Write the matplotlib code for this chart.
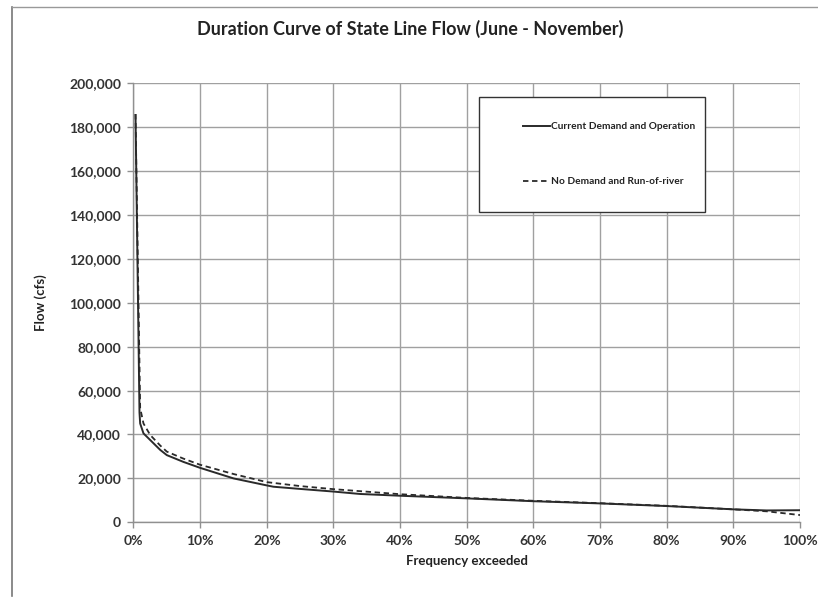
import matplotlib
matplotlib.use("Agg")
import matplotlib.pyplot as plt
from matplotlib.ticker import FuncFormatter, MultipleLocator
from matplotlib.lines import Line2D
from matplotlib.patches import Rectangle

plt.rcParams['font.family'] = ['Lato', 'DejaVu Sans']

title = "Duration Curve of State Line Flow (June - November)"
xlabel = "Frequency exceeded"
ylabel = "Flow (cfs)"
series_names = ["Current Demand and Operation", "No Demand and Run-of-river"]

current_freq = [0.3, 0.9, 1.0, 1.5, 2.5, 4, 5, 7.5, 10, 15, 20, 21, 25, 30, 34, 40, 50, 60, 70, 80, 90, 95, 100]
current_flow = [186000, 50000, 45000, 40500, 37500, 33000, 30600, 27500, 24800, 20000, 16800, 16200, 15200, 14000, 12900, 12100, 10900, 9600, 8600, 7400, 5900, 5400, 5500]

nodemand_freq = [0.3, 1.0, 1.5, 2.5, 4, 5, 7.5, 10, 15, 20, 25, 30, 40, 50, 60, 70, 80, 90, 95, 100]
nodemand_flow = [186000, 52000, 45000, 39800, 35000, 32200, 29000, 26200, 22000, 18300, 16500, 15100, 12800, 11100, 9800, 8700, 7500, 5900, 5000, 3300]

fig = plt.figure(figsize=(8.18, 5.98), dpi=100)
ax = fig.add_axes([0.1632, 0.1266, 0.978 - 0.1632, 0.8607 - 0.1266])

line_col = '#2a2a2a'
ax.plot(current_freq, current_flow, color=line_col, lw=1.4, solid_capstyle='butt')
ax.plot(nodemand_freq, nodemand_flow, color=line_col, lw=1.3, ls=(0, (3, 2)))

ax.set_xlim(0, 100)
ax.set_ylim(0, 200000)
ax.xaxis.set_major_locator(MultipleLocator(10))
ax.yaxis.set_major_locator(MultipleLocator(20000))
ax.xaxis.set_major_formatter(FuncFormatter(lambda v, p: f"{int(round(v))}%"))
ax.yaxis.set_major_formatter(FuncFormatter(lambda v, p: f"{int(v):,}"))

ax.grid(True, color='#a0a0a0', lw=1.0)
ax.set_axisbelow(True)
for s in ['top', 'right']:
    ax.spines[s].set_visible(False)
for s in ['left', 'bottom']:
    ax.spines[s].set_color('#909090')
    ax.spines[s].set_linewidth(1.0)
ax.tick_params(axis='both', length=4, width=1, color='#909090', colors='#333333',
               labelsize=10)
for lab in ax.get_xticklabels() + ax.get_yticklabels():
    lab.set_fontweight('bold')
ax.tick_params(axis='x', pad=5)
ax.tick_params(axis='y', pad=5)

ax.set_xlabel(xlabel, fontsize=9.5, fontweight='bold', color='#222222', labelpad=6)
ax.set_ylabel(ylabel, fontsize=9.5, fontweight='bold', color='#222222', labelpad=16)

fig.text(0.502, 0.952, title, ha='center', va='center', fontsize=13,
         fontweight='bold', color='#222222')

# Legend box (frame drawn separately)
ax.add_patch(Rectangle((0.519, 0.7075), 0.339, 0.262, transform=ax.transAxes,
                       facecolor='white', edgecolor='#333333', lw=1.0, zorder=4))
handles = [Line2D([], [], color=line_col, lw=1.4),
           Line2D([], [], color=line_col, lw=1.3, ls=(0, (3, 2)))]
leg = ax.legend(handles, series_names, loc='center left',
                bbox_to_anchor=(0.585, 0.8385),
                frameon=False, prop={'weight': 'bold', 'size': 7.3},
                labelspacing=4.5, handlelength=2.6, handletextpad=0.1,
                borderpad=0, borderaxespad=0)
leg.set_zorder(5)
for t in leg.get_texts():
    t.set_color('#222222')

# Outer chart border
fig.add_artist(Line2D([12/818, 12/818], [1 - 7/598, 1 - 596/598], transform=fig.transFigure,
                      color='#777777', lw=1.2))
fig.add_artist(Line2D([12/818, 1.0], [1 - 7/598, 1 - 7/598], transform=fig.transFigure,
                      color='#999999', lw=1.0))

fig.savefig("out.png", dpi=100, facecolor='white')
